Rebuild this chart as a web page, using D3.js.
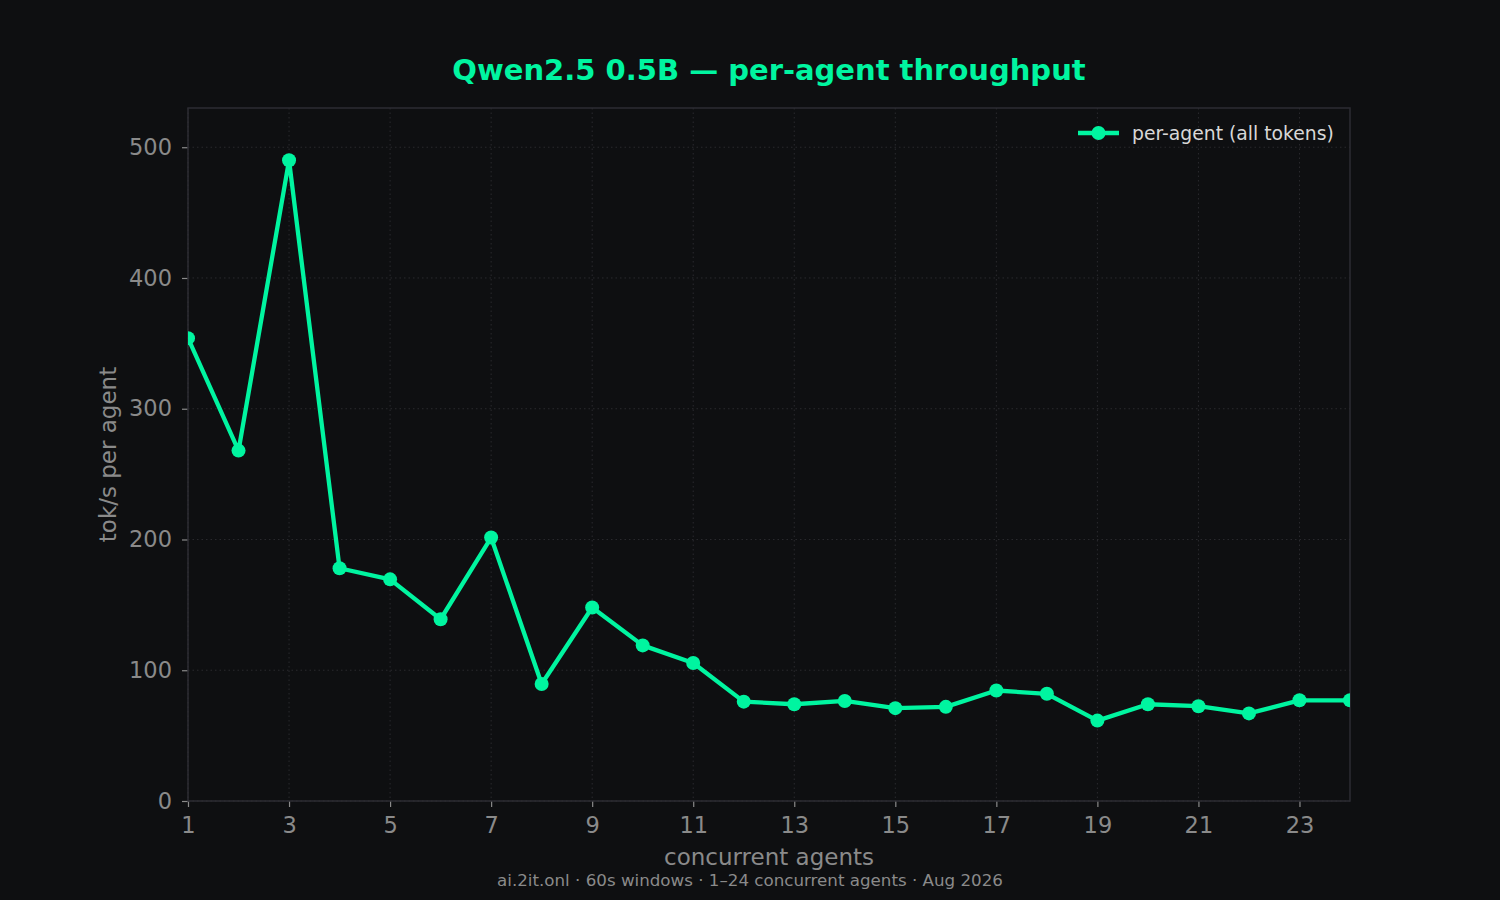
<!DOCTYPE html>
<html>
<head>
<meta charset="utf-8">
<script src="https://cdn.jsdelivr.net/npm/d3@7"></script>
<style>
  html, body { margin: 0; padding: 0; background: #0e0f11; }
  svg { display: block; font-family: "DejaVu Sans", sans-serif; }
</style>
</head>
<body>
<svg id="chart" width="1500" height="900"></svg>
<script>
// data
const agents = [1,2,3,4,5,6,7,8,9,10,11,12,13,14,15,16,17,18,19,20,21,22,23,24];
const perAgent = [354,268,490,178,169.5,139,201.5,89.5,148,119,105.5,76,74,76.5,71,72,84.5,82,61.5,74,72.5,67,77,77];
const xTicks = [1,3,5,7,9,11,13,15,17,19,21,23];
const yTicks = [0,100,200,300,400,500];

const titleText = "Qwen2.5 0.5B \u2014 per-agent throughput";
const xLabel = "concurrent agents";
const yLabel = "tok/s per agent";
const footer = "ai.2it.onl \u00b7 60s windows \u00b7 1\u201324 concurrent agents \u00b7 Aug 2026";
const seriesName = "per-agent (all tokens)";

const green = "#00f5a0";
const axisGrey = "#8a8a8a";
const spine = "#2c2c33";
const gridCol = "#2a2a2e";

const svg = d3.select("#chart");
svg.append("rect").attr("width",1500).attr("height",900).attr("fill","#0e0f11");

const margin = {top:108, left:188, right:150, bottom:99};
const W = 1500 - margin.left - margin.right;
const H = 900 - margin.top - margin.bottom;

const x = d3.scaleLinear().domain([1,24]).range([0,W]);
const y = d3.scaleLinear().domain([0,530]).range([H,0]);

const g = svg.append("g").attr("transform","translate("+margin.left+","+margin.top+")");

// grid
g.append("g").selectAll("line").data(xTicks).enter().append("line")
  .attr("x1",d=>x(d)).attr("x2",d=>x(d)).attr("y1",0).attr("y2",H)
  .attr("stroke",gridCol).attr("stroke-width",1).attr("stroke-dasharray","1.5,3");
g.append("g").selectAll("line").data(yTicks).enter().append("line")
  .attr("x1",0).attr("x2",W).attr("y1",d=>y(d)).attr("y2",d=>y(d))
  .attr("stroke",gridCol).attr("stroke-width",1).attr("stroke-dasharray","1.5,3");

// axes
const xAxis = g.append("g").attr("transform","translate(0,"+H+")")
  .call(d3.axisBottom(x).tickValues(xTicks).tickFormat(d3.format("d")).tickSize(6).tickPadding(10));
const yAxis = g.append("g")
  .call(d3.axisLeft(y).tickValues(yTicks).tickFormat(d3.format("d")).tickSize(6).tickPadding(10));
[xAxis,yAxis].forEach(a=>{
  a.select(".domain").remove();
  a.selectAll(".tick line").attr("stroke",axisGrey).attr("stroke-width",1.2);
  a.selectAll(".tick text").attr("fill",axisGrey).style("font-size","22.5px").style("font-family","DejaVu Sans");
});

// spines
g.append("rect").attr("x",0).attr("y",0).attr("width",W).attr("height",H)
  .attr("fill","none").attr("stroke",spine).attr("stroke-width",1.5);

// line + points, clipped to the axes like the original
svg.append("defs").append("clipPath").attr("id","clip")
  .append("rect").attr("x",0).attr("y",0).attr("width",W).attr("height",H);
const plot = g.append("g").attr("clip-path","url(#clip)");
const pts = agents.map((a,i)=>({a:a, v:perAgent[i]}));
plot.append("path").datum(pts)
  .attr("fill","none").attr("stroke",green).attr("stroke-width",4.3)
  .attr("stroke-linejoin","round")
  .attr("d",d3.line().x(d=>x(d.a)).y(d=>y(d.v)));
plot.selectAll("circle").data(pts).enter().append("circle")
  .attr("cx",d=>x(d.a)).attr("cy",d=>y(d.v)).attr("r",7).attr("fill",green);

// legend
const lg = g.append("g").attr("transform","translate("+(W-272)+",25)");
lg.append("line").attr("x1",0).attr("x2",41).attr("y1",0).attr("y2",0)
  .attr("stroke",green).attr("stroke-width",4.3);
lg.append("circle").attr("cx",20.5).attr("cy",0).attr("r",7).attr("fill",green);
lg.append("text").attr("x",54).attr("y",6.5).text(seriesName)
  .attr("fill","#d8d8d8").style("font-size","18.8px");

// titles
svg.append("text").attr("x",margin.left+W/2).attr("y",80).attr("text-anchor","middle")
  .attr("fill",green).style("font-size","29px").style("font-weight","bold").text(titleText);
svg.append("text").attr("x",margin.left+W/2).attr("y",865).attr("text-anchor","middle")
  .attr("fill",axisGrey).style("font-size","23px").text(xLabel);
svg.append("text").attr("transform","translate(116,"+(margin.top+H/2)+") rotate(-90)")
  .attr("text-anchor","middle").attr("fill",axisGrey).style("font-size","23px").text(yLabel);
svg.append("text").attr("x",750).attr("y",886).attr("text-anchor","middle")
  .attr("fill",axisGrey).style("font-size","16.7px").text(footer);
</script>
</body>
</html>
